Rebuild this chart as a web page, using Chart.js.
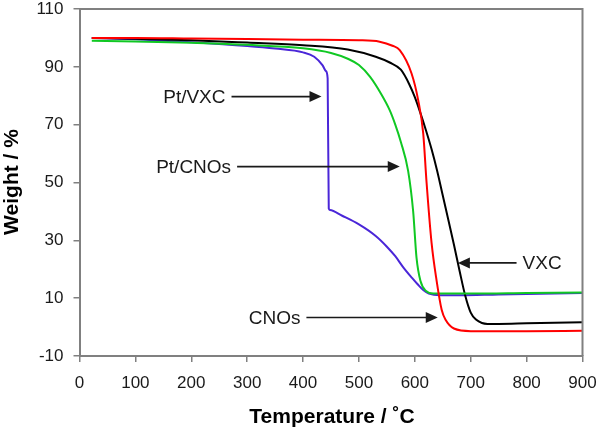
<!DOCTYPE html>
<html>
<head>
<meta charset="utf-8">
<script src="https://cdn.jsdelivr.net/npm/chart.js@4.4.1/dist/chart.umd.min.js"></script>
<style>
  html, body { margin: 0; padding: 0; background: #fff; }
  #wrap { width: 600px; height: 431px; position: relative; }
</style>
</head>
<body>
<div id="wrap"><canvas id="tga"></canvas></div>
<script>
'use strict';

// TGA curves: temperature (°C) and weight (%)
const tempCNOs = [22, 100, 200, 300, 400, 500, 537, 560, 573, 594, 606, 615, 621, 630, 639, 648, 655, 670, 700, 800, 900];
const wtCNOs = [100, 100, 99.8, 99.6, 99.4, 99.2, 98.7, 97.3, 95.8, 87.8, 78.5, 67, 50, 29, 16, 6, 2.5, -0.5, -1.4, -1.4, -1.3];

const tempVXC = [22, 100, 200, 300, 400, 480, 530, 555, 575, 590, 600, 610, 620, 630, 640, 650, 660, 670, 680, 690, 700, 710, 720, 730, 750, 800, 900];
const wtVXC = [100, 99.7, 99.2, 98.4, 97.5, 96, 93.5, 91.5, 89, 84, 79.5, 74, 68, 61.5, 54, 45.5, 37, 28.5, 19.5, 11, 5, 2.5, 1.4, 1.1, 1.1, 1.3, 1.7];

const tempPtCNOs = [22, 100, 200, 300, 400, 450, 480, 500, 520, 540, 555, 565, 575, 588, 597, 603, 610, 620, 633, 700, 800, 900];
const wtPtCNOs = [99, 98.8, 98.3, 97.6, 96.4, 94.8, 92.8, 90.6, 86.5, 80.5, 75, 70, 64, 54, 40, 24, 16, 12.5, 11.6, 11.6, 11.8, 12];

const tempPtVXC = [22, 100, 200, 300, 350, 400, 420, 435, 441, 444, 446, 448, 470, 500, 530, 550, 565, 580, 595, 605, 615, 625, 645, 680, 750, 900];
const wtPtVXC = [100, 99.5, 98.5, 97.2, 96.3, 95, 93.5, 90.5, 88.5, 86, 41, 40.5, 38.5, 35.5, 31.5, 27.8, 24.5, 20.5, 17, 14.8, 12.8, 11.6, 11, 11, 11.3, 11.8];

// annotation labels with arrow (tail -> tip) in data coordinates
const notas = [
    { texto: 'Pt/VXC', desde: [272, 79.7], hasta: [433, 79.7], lado: 'izq' },
    { texto: 'Pt/CNOs', desde: [282, 55.5], hasta: [573, 55.5], lado: 'izq' },
    { texto: 'CNOs', desde: [406, 3.3], hasta: [641, 3.3], lado: 'izq' },
    { texto: 'VXC', desde: [782, 22.2], hasta: [677, 22.2], lado: 'der' },
];

const FUENTE = 'Arial, "Liberation Sans", sans-serif';
const GRIS = '#808080';

const puntos = (xs, ys) => xs.map((x, i) => ({ x, y: ys[i] }));

const serie = (label, xs, ys, color) => ({
    label,
    data: puntos(xs, ys),
    borderColor: color,
    backgroundColor: color,
    borderWidth: 2,
    pointRadius: 0,
    cubicInterpolationMode: 'monotone',
});

const marcoYNotas = {
    id: 'marcoYNotas',
    afterDatasetsDraw(chart) {
        const { ctx, chartArea: a, scales: { x, y } } = chart;
        ctx.save();
        // top and right frame
        ctx.strokeStyle = GRIS;
        ctx.lineWidth = 2;
        ctx.beginPath();
        ctx.moveTo(a.left, a.top);
        ctx.lineTo(a.right, a.top);
        ctx.lineTo(a.right, a.bottom);
        ctx.stroke();

        ctx.font = `19px ${FUENTE}`;
        ctx.textBaseline = 'middle';
        notas.forEach((n) => {
            const x0 = x.getPixelForValue(n.desde[0]);
            const x1 = x.getPixelForValue(n.hasta[0]);
            const py = y.getPixelForValue(n.hasta[1]);
            const dir = Math.sign(x1 - x0);
            ctx.strokeStyle = '#1a1a1a';
            ctx.fillStyle = '#1a1a1a';
            ctx.lineWidth = 1.6;
            ctx.beginPath();
            ctx.moveTo(x0, py);
            ctx.lineTo(x1 - dir * 10, py);
            ctx.stroke();
            ctx.beginPath();
            ctx.moveTo(x1, py);
            ctx.lineTo(x1 - dir * 12, py - 5.5);
            ctx.lineTo(x1 - dir * 12, py + 5.5);
            ctx.closePath();
            ctx.fill();
            if (n.lado === 'izq') {
                ctx.textAlign = 'right';
                ctx.fillText(n.texto, x0 - 6, py + 1);
            } else {
                ctx.textAlign = 'left';
                ctx.fillText(n.texto, x0 + 6, py + 1);
            }
        });

        // axis titles
        ctx.fillStyle = '#000';
        ctx.font = `bold 21px ${FUENTE}`;
        ctx.textAlign = 'center';
        ctx.fillText('Temperature / ˚C', 332, 417);
        ctx.translate(12, 182);
        ctx.rotate(-Math.PI / 2);
        ctx.fillText('Weight / %', 0, 0);
        ctx.restore();
    },
};

// fixed box size, no automatic label padding
const fijar = (prop, valor) => (s) => {
    s[prop] = valor;
    s.paddingTop = 0;
    s.paddingBottom = 0;
    s.paddingLeft = 0;
    s.paddingRight = 0;
};

const escala = {
    type: 'linear',
    border: { color: GRIS, width: 2 },
    grid: { drawOnChartArea: false, drawTicks: true, tickLength: 6, color: GRIS, lineWidth: 1.5 },
    ticks: { color: '#1a1a1a', font: { family: FUENTE, size: 17 } },
};

new Chart(document.getElementById('tga'), {
    type: 'line',
    data: {
        datasets: [
            serie('CNOs', tempCNOs, wtCNOs, '#ff0000'),
            serie('Pt/CNOs', tempPtCNOs, wtPtCNOs, '#10c823'),
            serie('VXC', tempVXC, wtVXC, '#000000'),
            serie('Pt/VXC', tempPtVXC, wtPtVXC, '#4a26d8'),
        ],
    },
    options: {
        responsive: true,
        maintainAspectRatio: false,
        animation: false,
        layout: { autoPadding: false, padding: { top: 9, right: 17.5, left: 0, bottom: 0 } },
        plugins: { legend: { display: false }, tooltip: { enabled: false } },
        scales: {
            x: {
                ...escala,
                min: 0,
                max: 900,
                ticks: { ...escala.ticks, stepSize: 100, padding: 11, maxRotation: 0 },
                afterFit: fijar('height', 75),
            },
            y: {
                ...escala,
                min: -10,
                max: 110,
                ticks: { ...escala.ticks, stepSize: 20, padding: 10 },
                afterFit: fijar('width', 79.5),
            },
        },
    },
    plugins: [marcoYNotas],
});
</script>
</body>
</html>
